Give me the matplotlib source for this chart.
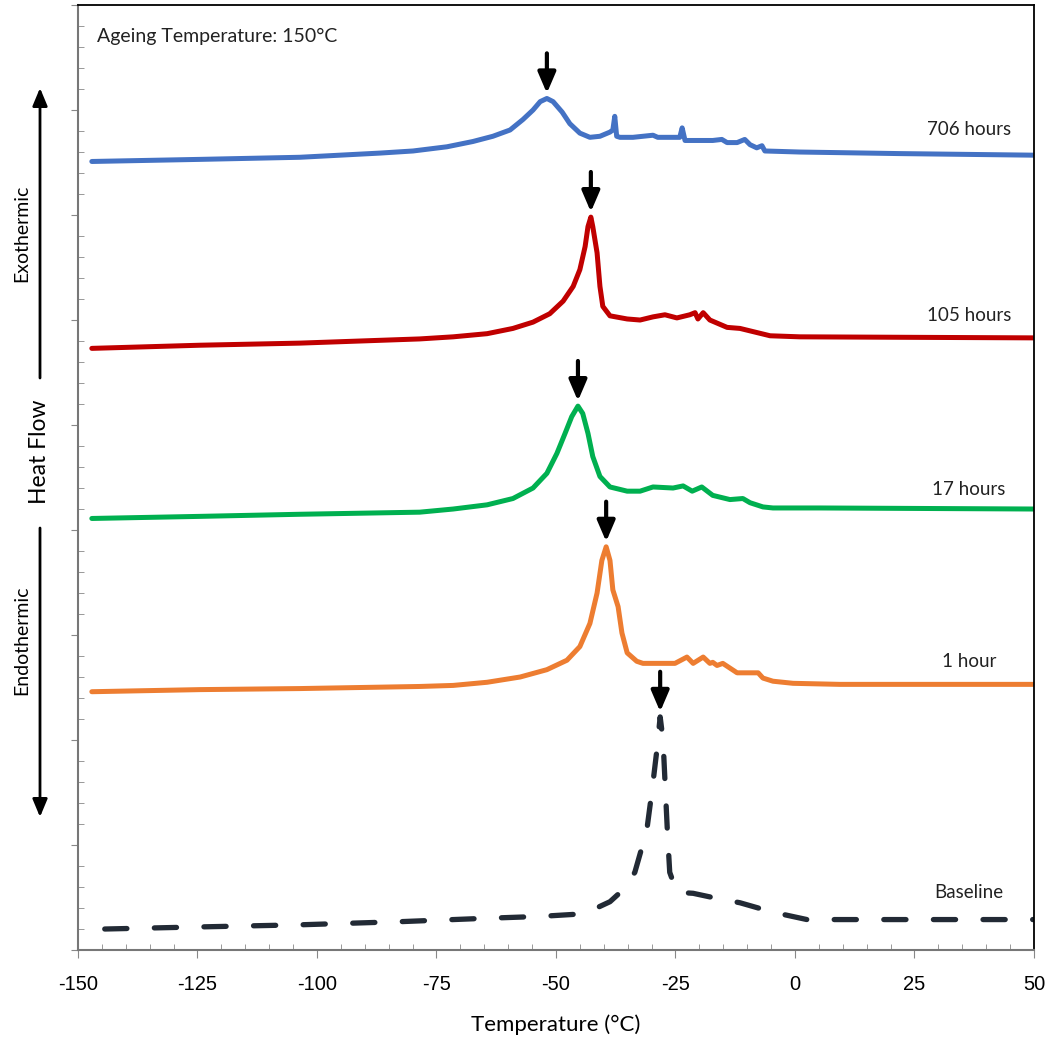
"""
DSC heat-flow traces after ageing at 150 C, stacked with offsets.
"""

import numpy as np
import matplotlib
matplotlib.use("Agg")
import matplotlib.pyplot as plt
from matplotlib.patches import FancyArrowPatch

plt.rcParams["axes.unicode_minus"] = False

# ---- data (temperature in C, heat flow in arbitrary stacked units) ----
t_706 = [-147.1, -124.5, -103.6, -86.8, -79.9, -72.8, -67.4, -63.2, -59.6, -56.9,
         -54.8, -53.3, -51.9, -50.6, -48.7, -47.1, -45.0, -42.9, -40.8, -38.7,
         -38.1, -37.7, -37.3, -36.6, -33.9, -29.7, -28.7, -24.1, -23.6, -23.0,
         -17.2, -15.3, -14.2, -12.1, -10.5, -9.4, -8.0, -6.9, -6.3, 1.0,
         22.0, 50.0]
hf_706 = [7.51, 7.53, 7.55, 7.59, 7.61, 7.65, 7.70, 7.75, 7.81, 7.91,
          8.00, 8.08, 8.11, 8.08, 7.98, 7.87, 7.78, 7.74, 7.75, 7.79,
          7.81, 7.94, 7.75, 7.74, 7.74, 7.76, 7.74, 7.74, 7.83, 7.71,
          7.71, 7.72, 7.69, 7.69, 7.72, 7.67, 7.64, 7.66, 7.61, 7.60,
          7.585, 7.57]

t_105 = [-147.1, -124.5, -103.6, -78.5, -71.5, -64.4, -59.0, -54.8, -51.3, -48.5,
         -46.4, -45.0, -43.9, -43.3, -42.7, -42.3, -41.4, -40.8, -40.2, -38.7,
         -35.1, -32.4, -29.7, -27.2, -24.7, -22.0, -20.9, -20.3, -19.2, -17.8,
         -14.2, -11.5, -8.8, -5.2, 1.0, 50.0]
hf_105 = [5.73, 5.76, 5.78, 5.82, 5.84, 5.87, 5.92, 5.98, 6.06, 6.18,
          6.32, 6.48, 6.70, 6.89, 6.98, 6.89, 6.64, 6.32, 6.13, 6.04,
          6.01, 6.00, 6.03, 6.05, 6.02, 6.05, 6.07, 6.01, 6.07, 6.00,
          5.93, 5.92, 5.89, 5.85, 5.84, 5.83]

t_17 = [-147.1, -124.5, -103.6, -78.5, -71.5, -64.4, -59.0, -54.8, -51.9, -49.8,
        -48.1, -46.7, -45.4, -44.4, -43.3, -42.3, -40.8, -38.7, -35.1, -32.4,
        -29.7, -25.5, -23.4, -21.5, -19.5, -17.2, -13.6, -10.9, -9.4, -6.7,
        -4.6, 5.2, 50.0]
hf_17 = [4.11, 4.13, 4.15, 4.17, 4.20, 4.24, 4.30, 4.40, 4.54, 4.73,
         4.92, 5.08, 5.18, 5.11, 4.92, 4.70, 4.51, 4.41, 4.37, 4.37,
         4.41, 4.40, 4.42, 4.37, 4.41, 4.33, 4.29, 4.30, 4.26, 4.22,
         4.21, 4.21, 4.20]

t_1 = [-147.1, -124.5, -103.6, -78.5, -71.5, -64.4, -57.5, -51.9, -47.7, -45.0,
       -42.9, -41.4, -40.4, -39.5, -38.7, -38.1, -37.0, -36.2, -35.1, -33.1,
       -31.8, -25.1, -22.6, -21.3, -19.2, -17.8, -17.2, -16.3, -15.1, -12.1,
       -9.4, -7.7, -6.7, -4.6, -0.4, 9.4, 50.0]
hf_1 = [2.46, 2.48, 2.49, 2.51, 2.52, 2.55, 2.60, 2.67, 2.76, 2.89,
        3.11, 3.40, 3.71, 3.84, 3.71, 3.43, 3.27, 3.02, 2.83, 2.75,
        2.73, 2.73, 2.79, 2.73, 2.79, 2.73, 2.74, 2.71, 2.73, 2.64,
        2.64, 2.64, 2.59, 2.56, 2.54, 2.53, 2.53]

t_base = [-144.4, -124.5, -103.6, -82.6, -65.9, -53.3, -46.0, -42.0, -38.7, -35.8,
          -33.5, -31.0, -29.9, -28.9, -28.2, -27.6, -27.1, -26.7, -26.2, -24.7,
          -21.3, -17.2, -11.5, -4.6, 2.5, 12.1, 50.0]
hf_base = [0.20, 0.22, 0.24, 0.27, 0.30, 0.32, 0.34, 0.39, 0.46, 0.58,
           0.74, 1.14, 1.52, 1.90, 2.22, 2.00, 1.52, 1.14, 0.74, 0.55,
           0.54, 0.50, 0.45, 0.36, 0.29, 0.29, 0.29]

series = [
    (t_706, hf_706, "#4472C4", "706 hours", 7.81, "-"),
    (t_105, hf_105, "#C00000", "105 hours", 6.04, "-"),
    (t_17, hf_17, "#00B050", "17 hours", 4.39, "-"),
    (t_1, hf_1, "#ED7D31", "1 hour", 2.75, "-"),
    (t_base, hf_base, "#222A35", "Baseline", 0.55, "--"),
]

label_x = 36.4
ann_font = ["Lato", "DejaVu Sans"]


def main():
    fig = plt.figure(figsize=(10.48, 10.48), dpi=100, facecolor="white")
    ax = fig.add_axes([0.0744, 0.0935, 0.9122, 0.9017])

    for t, hf, col, lab, ly, ls in series:
        if ls == "--":
            ax.plot(t, hf, color=col, lw=3.8, dashes=(4.2, 5.2),
                    dash_capstyle="round", dash_joinstyle="round")
        else:
            ax.plot(t, hf, color=col, lw=3.6, solid_capstyle="round",
                    solid_joinstyle="round")
        ax.text(label_x, ly, lab, fontsize=13.5, ha="center", va="center",
                family=ann_font, color="#222222")

        # arrow over the main peak
        i = int(np.argmax(hf))
        ax.annotate("", xy=(t[i], hf[i] + 0.05), xytext=(t[i], hf[i] + 0.43),
                    arrowprops=dict(arrowstyle="-|>,head_length=0.7,head_width=0.3",
                                    lw=3, color="black", mutation_scale=18,
                                    shrinkA=0, shrinkB=0))

    ax.text(-146.0, 8.705, "Ageing Temperature: 150°C", fontsize=14,
            ha="left", va="center", family=ann_font, color="#222222")

    ax.set_xlim(-150, 50)
    ax.set_ylim(0, 9)
    ax.set_xticks(np.arange(-150, 51, 25))
    ax.set_xticks(np.arange(-150, 51, 5), minor=True)
    ax.set_yticks(np.arange(0, 10, 1))
    ax.set_yticks(np.arange(0, 9.01, 0.2), minor=True)
    ax.set_yticklabels([])

    ax.tick_params(axis="x", which="major", direction="out", length=6,
                   color="#888888", labelsize=14.5, pad=12)
    ax.tick_params(axis="x", which="minor", direction="in", length=4,
                   color="#888888")
    ax.tick_params(axis="y", which="major", direction="out", length=5,
                   color="#888888")
    ax.tick_params(axis="y", which="minor", direction="in", length=4,
                   color="#888888")
    for lab in ax.get_xticklabels():
        lab.set_family(["Liberation Sans", "DejaVu Sans"])

    for side in ["left", "bottom"]:
        ax.spines[side].set_color("#777777")
        ax.spines[side].set_linewidth(1.5)
    for side in ["top", "right"]:
        ax.spines[side].set_color("black")
        ax.spines[side].set_linewidth(1.3)

    ax.set_xlabel("Temperature (°C)", fontsize=16, family=ann_font,
                  labelpad=15)

    # heat-flow direction arrows on the left margin
    ax_x = 40 / 1048
    fig.text(ax_x, 1 - 452 / 1048, "Heat Flow", rotation=90, fontsize=16.5,
             ha="center", va="center", family=ann_font)
    fig.text(22 / 1048, 1 - 233 / 1048, "Exothermic", rotation=90,
             fontsize=14, ha="center", va="center", family=ann_font)
    fig.text(22 / 1048, 1 - 640 / 1048, "Endothermic", rotation=90,
             fontsize=14, ha="center", va="center", family=ann_font)
    arr = dict(arrowstyle="-|>,head_length=0.6,head_width=0.25", lw=2,
               color="black", mutation_scale=18, shrinkA=0, shrinkB=0)
    fig.add_artist(FancyArrowPatch((ax_x, 1 - 378 / 1048), (ax_x, 1 - 88 / 1048),
                                   transform=fig.transFigure, **arr))
    fig.add_artist(FancyArrowPatch((ax_x, 1 - 528 / 1048), (ax_x, 1 - 817 / 1048),
                                   transform=fig.transFigure, **arr))

    plt.savefig("out.png", dpi=100, facecolor="white")
    plt.close()


if __name__ == "__main__":
    main()
